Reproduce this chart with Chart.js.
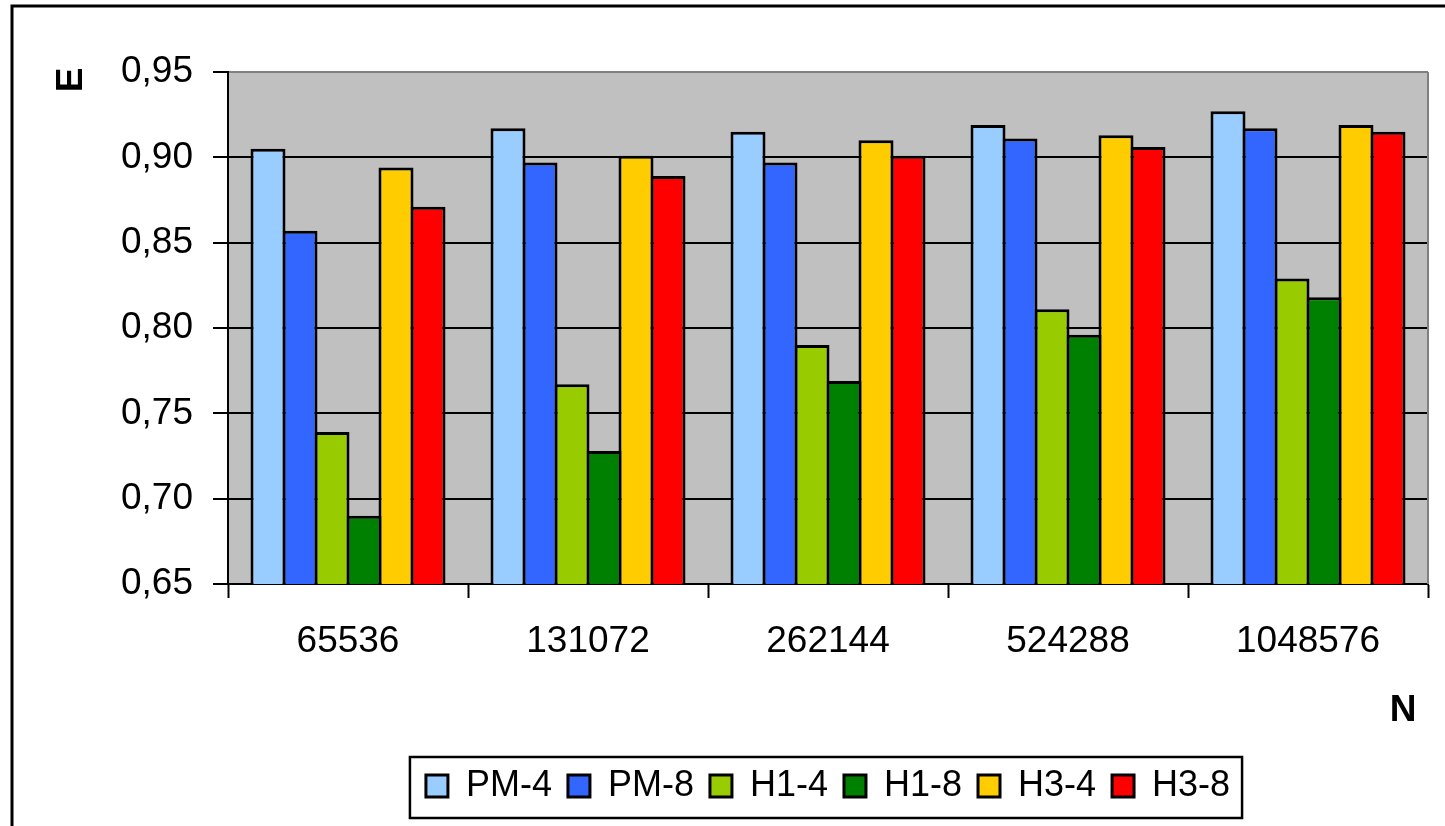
<!DOCTYPE html>
<html>
<head>
<meta charset="utf-8">
<title>E vs N</title>
<script src="https://cdn.jsdelivr.net/npm/chart.js@4.4.0/dist/chart.umd.min.js"></script>
<style>
  html, body { margin: 0; padding: 0; background: #fff; overflow: hidden; }
  #wrap { width: 1445px; height: 826px; }
</style>
</head>
<body>
<div id="wrap"><canvas id="chart" width="1445" height="826"></canvas></div>
<script>
// problem sizes on the x axis
const sizes = ['65536', '131072', '262144', '524288', '1048576'];

// efficiency per method
const pm4 = [0.905, 0.917, 0.915, 0.919, 0.927];
const pm8 = [0.857, 0.897, 0.897, 0.911, 0.917];
const h14 = [0.739, 0.767, 0.790, 0.811, 0.829];
const h18 = [0.690, 0.728, 0.769, 0.796, 0.818];
const h34 = [0.894, 0.901, 0.910, 0.913, 0.919];
const h38 = [0.871, 0.889, 0.901, 0.906, 0.915];

const seriesNames = ['PM-4', 'PM-8', 'H1-4', 'H1-8', 'H3-4', 'H3-8'];
const seriesColors = ['#99CCFF', '#3366FF', '#99CC00', '#008000', '#FFCC00', '#FF0000'];
const seriesValues = [pm4, pm8, h14, h18, h34, h38];

const yTicks = [0.65, 0.70, 0.75, 0.80, 0.85, 0.90, 0.95];

const FONT = '"Liberation Sans", Arial, sans-serif';

// gray plot background, outer frame, axis letters and the legend frame
const decorations = {
    id: 'decorations',
    afterLayout(chart) {
        // center the legend row under the plot instead of the whole canvas
        const lg = chart.legend;
        const a = chart.chartArea;
        lg.left = a.left;
        lg.right = a.right;
        lg.width = a.right - a.left;
    },
    beforeDraw(chart) {
        const ctx = chart.ctx;
        const a = chart.chartArea;
        ctx.save();
        ctx.fillStyle = '#fff';
        ctx.fillRect(0, 0, chart.width, chart.height);
        ctx.fillStyle = '#C0C0C0';
        ctx.fillRect(a.left, a.top, a.right - a.left, a.bottom - a.top);
        ctx.restore();
    },
    afterDraw(chart) {
        const ctx = chart.ctx;
        const a = chart.chartArea;
        ctx.save();
        // right edge of plot
        ctx.strokeStyle = '#808080';
        ctx.lineWidth = 2;
        ctx.beginPath();
        ctx.moveTo(a.right, a.top);
        ctx.lineTo(a.right, a.bottom);
        ctx.stroke();

        // outer frame
        ctx.strokeStyle = '#000';
        ctx.lineWidth = 3;
        ctx.strokeRect(12, 6, chart.width + 20, chart.height + 20);

        // axis letters
        ctx.fillStyle = '#000';
        ctx.font = 'bold 37px ' + FONT;
        ctx.textAlign = 'center';
        ctx.textBaseline = 'middle';
        ctx.save();
        ctx.translate(70, 80);
        ctx.rotate(-Math.PI / 2);
        ctx.fillText('E', 0, 2);
        ctx.restore();
        ctx.fillText('N', 1403, 711);

        // legend frame
        const boxes = chart.legend.legendHitBoxes;
        if (boxes && boxes.length) {
            const left = Math.min(...boxes.map(b => b.left)) - 16;
            const right = Math.max(...boxes.map(b => b.left + b.width)) + 12;
            const top = Math.min(...boxes.map(b => b.top));
            const bottom = Math.max(...boxes.map(b => b.top + b.height));
            const mid = (top + bottom) / 2;
            ctx.lineWidth = 2.5;
            ctx.strokeRect(left, mid - 29, right - left, 61);
        }
        ctx.restore();
    }
};

const datasets = seriesNames.map((name, i) => ({
    label: name,
    data: seriesValues[i],
    backgroundColor: seriesColors[i],
    borderColor: '#000',
    borderWidth: 3,
    borderSkipped: 'bottom'
}));

new Chart(document.getElementById('chart'), {
    type: 'bar',
    data: { labels: sizes, datasets: datasets },
    plugins: [decorations],
    options: {
        responsive: false,
        animation: false,
        layout: { padding: { left: 0, top: 72, right: 17, bottom: 12 } },
        datasets: {
            bar: { categoryPercentage: 0.8, barPercentage: 1.094 }
        },
        plugins: {
            tooltip: { enabled: false },
            legend: {
                position: 'bottom',
                labels: {
                    color: '#000',
                    font: { family: FONT, size: 36 },
                    boxWidth: 22,
                    boxHeight: 22,
                    padding: 16
                }
            }
        },
        scales: {
            x: {
                afterFit(scale) { scale.height = 168; },
                grid: {
                    offset: true,
                    drawOnChartArea: false,
                    drawTicks: true,
                    tickLength: 14,
                    tickWidth: 2,
                    tickColor: '#000'
                },
                border: { color: '#000', width: 2 },
                ticks: {
                    color: '#000',
                    font: { family: FONT, size: 37 },
                    padding: 22,
                    maxRotation: 0
                }
            },
            y: {
                min: 0.65,
                max: 0.95,
                afterFit(scale) { scale.width = 228; },
                afterBuildTicks(scale) {
                    scale.ticks = yTicks.map(v => ({ value: v }));
                },
                grid: {
                    color: c => (c.tick && Math.abs(c.tick.value - 0.95) < 1e-6) ? '#808080' : '#000',
                    lineWidth: 2,
                    tickColor: '#000',
                    tickWidth: 2,
                    tickLength: 15
                },
                border: { color: '#000', width: 2 },
                ticks: {
                    color: '#000',
                    font: { family: FONT, size: 37 },
                    padding: 20,
                    callback: v => v.toFixed(2).replace('.', ',')
                }
            }
        }
    }
});
</script>
</body>
</html>
